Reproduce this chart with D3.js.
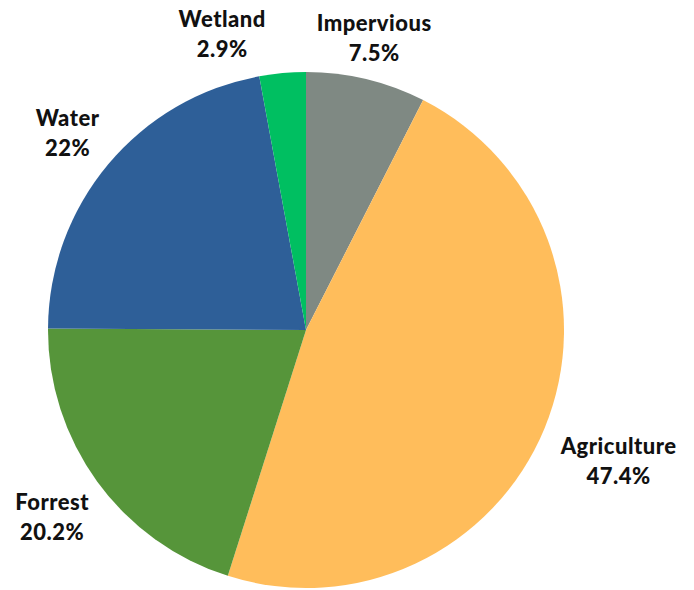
<!DOCTYPE html>
<html>
<head>
<meta charset="utf-8">
<script src="https://cdn.jsdelivr.net/npm/d3@7"></script>
<style>
  body { margin: 0; background: #fff; }
  text { font-family: "Lato", sans-serif; font-weight: 900; font-size: 22px; letter-spacing: 0.5px; fill: #111; }
</style>
</head>
<body>
<svg id="chart" width="694" height="590"></svg>
<script>
var categories = ["Impervious", "Agriculture", "Forrest", "Water", "Wetland"];
var values     = [7.5, 47.4, 20.2, 22, 2.9];
var valueLabels = ["7.5%", "47.4%", "20.2%", "22%", "2.9%"];
var colors     = ["#7f8983", "#ffbd5b", "#56953a", "#2e5f98", "#00bf61"];

var svg = d3.select("#chart"),
    cx = 306, cy = 330, radius = 258;

var canvas = svg.append("g").attr("transform", "translate(" + cx + "," + cy + ")");

var data = categories.map(function(c, i) { return {name: c, value: values[i], label: valueLabels[i]}; });

var color = d3.scaleOrdinal().domain(categories).range(colors);

var pie = d3.pie().sort(null).value(function(d) { return d.value; });
var arc = d3.arc().innerRadius(0).outerRadius(radius);

var arcs = pie(data);

canvas.selectAll("path.slice")
    .data(arcs)
  .enter().append("path")
    .attr("class", "slice")
    .attr("d", arc)
    .style("fill", function(d) { return color(d.data.name); });

// labels sit outside the pie along each slice's mid angle (small nudges to avoid overlap)
var labelRadius = {Impervious: 292, Agriculture: 342, Forrest: 320, Water: 304, Wetland: 300};
var nudge = {Agriculture: 1.6, Forrest: -1.5, Water: -1.6, Wetland: -11};

var labels = canvas.selectAll("g.label")
    .data(arcs)
  .enter().append("g")
    .attr("class", "label")
    .attr("transform", function(d) {
      var a = (d.startAngle + d.endAngle) / 2 + ((nudge[d.data.name] || 0) * Math.PI / 180);
      var r = labelRadius[d.data.name];
      return "translate(" + (Math.sin(a) * r) + "," + (-Math.cos(a) * r) + ")";
    });

labels.append("text")
    .attr("text-anchor", "middle")
    .attr("y", -15)
    .text(function(d) { return d.data.name; });

labels.append("text")
    .attr("text-anchor", "middle")
    .attr("y", 15)
    .text(function(d) { return d.data.label; });
</script>
</body>
</html>
